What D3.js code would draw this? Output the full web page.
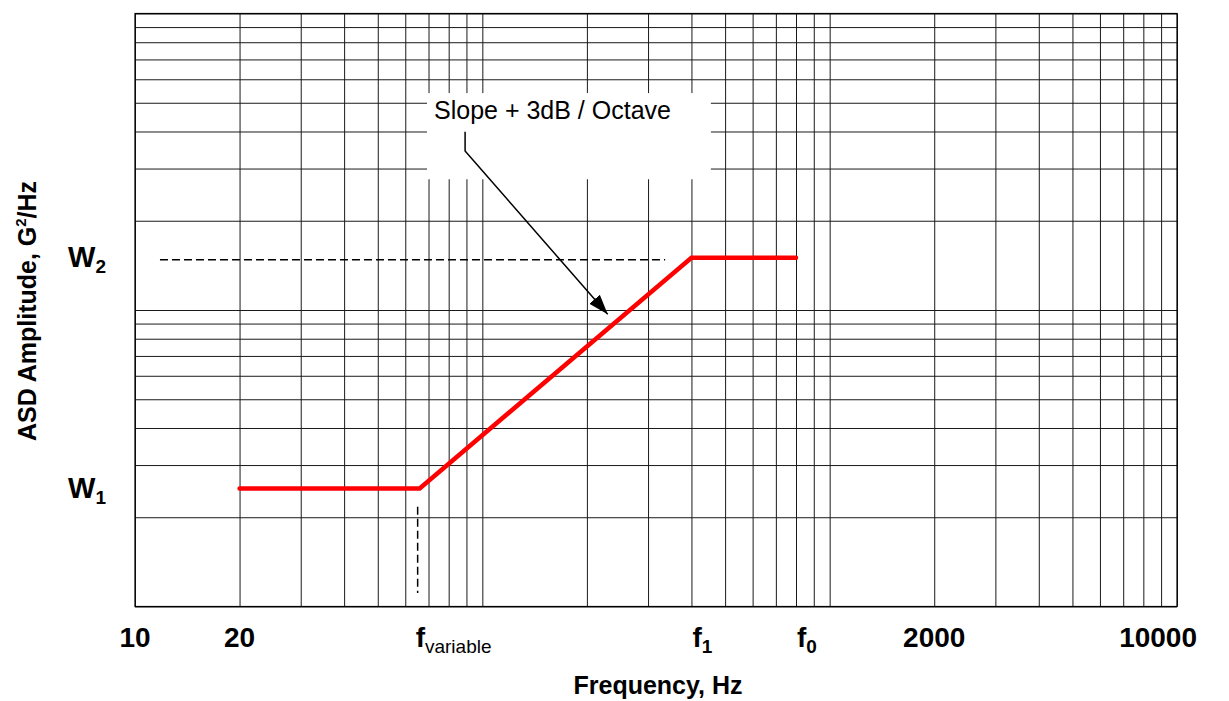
<!DOCTYPE html>
<html>
<head>
<meta charset="utf-8">
<script src="https://cdn.jsdelivr.net/npm/d3@7"></script>
<style>
  body { margin: 0; background: #fff; }
  text { font-family: "Liberation Sans", Arial, sans-serif; fill: #000; }
</style>
</head>
<body>
<script>
var width = 1229;
var height = 701;

// data
var freqDomain = [10, 10000];
var asdDomain = [0.001, 0.1];
var profileFreq = [20, 66, 400, 800];
var profileAsd = [0.0025, 0.0025, 0.015, 0.015];
var tickValues = [10, 20, 66, 400, 800, 2000, 10000];
var tickMain = ["10", "20", "f", "f", "f", "2000", "10000"];
var tickSub = ["", "", "variable", "1", "0", "", ""];
var levelValues = [0.0025, 0.015];
var levelSub = ["1", "2"];
var w2DashFreq = [11.8, 336];
var fvarDashAsd = [0.00111, 0.00217];
var noteText = "Slope + 3dB / Octave";
var noteBoxFreq = [69.3, 455];
var noteBoxAsd = [0.0276, 0.0539];
var noteLeadFreq = [89.2, 89.2, 229.6];
var noteLeadAsd = [0.0399, 0.0344, 0.00967];

var margin = {left: 135, top: 13.5};
var chart_width = 1042;
var chart_height = 593;

var svgContainer = d3.select("body")
                     .append("svg")
                     .attr("width", width)
                     .attr("height", height);

var x = d3.scaleLog().domain(freqDomain).range([0, chart_width]);
var y = d3.scaleLog().domain(asdDomain).range([chart_height, 0]);

var chart_group = svgContainer.append("g")
                              .attr("transform", "translate(" + margin.left + "," + margin.top + ")");

// grid
chart_group.append("g")
    .attr("class", "gridx")
    .attr("transform", "translate(0," + chart_height + ")")
    .call(d3.axisBottom(x).tickSizeInner(-chart_height).tickSizeOuter(0).tickFormat(""));
chart_group.append("g")
    .attr("class", "gridy")
    .call(d3.axisLeft(y).tickSizeInner(-chart_width).tickSizeOuter(0).tickFormat(""));
chart_group.selectAll(".domain").remove();
chart_group.selectAll(".tick line").attr("stroke", "#1a1a1a").attr("stroke-width", 1);

chart_group.append("rect")
    .attr("width", chart_width)
    .attr("height", chart_height)
    .attr("fill", "none")
    .attr("stroke", "#000")
    .attr("stroke-width", 1.2);

// note box hides grid
chart_group.append("rect")
    .attr("x", x(noteBoxFreq[0]))
    .attr("y", y(noteBoxAsd[1]))
    .attr("width", x(noteBoxFreq[1]) - x(noteBoxFreq[0]))
    .attr("height", y(noteBoxAsd[0]) - y(noteBoxAsd[1]))
    .attr("fill", "#fff");

chart_group.append("text")
    .attr("x", x(noteBoxFreq[0]) + 7)
    .attr("y", y(noteBoxAsd[1]) + 26)
    .style("font-size", "25px")
    .text(noteText);

// dashed reference lines
chart_group.append("line")
    .attr("x1", x(w2DashFreq[0]))
    .attr("x2", x(w2DashFreq[1]))
    .attr("y1", y(levelValues[1]) + 2)
    .attr("y2", y(levelValues[1]) + 2)
    .attr("stroke", "#000")
    .attr("stroke-width", 1.5)
    .attr("stroke-dasharray", "8,4");

chart_group.append("line")
    .attr("x1", x(profileFreq[1]) - 2)
    .attr("x2", x(profileFreq[1]) - 2)
    .attr("y1", y(fvarDashAsd[1]))
    .attr("y2", y(fvarDashAsd[0]))
    .attr("stroke", "#000")
    .attr("stroke-width", 1.5)
    .attr("stroke-dasharray", "8,4");

// arrow
svgContainer.append("defs").append("marker")
    .attr("id", "arrowhead")
    .attr("markerUnits", "userSpaceOnUse")
    .attr("markerWidth", 22)
    .attr("markerHeight", 18)
    .attr("viewBox", "0 -9 22 18")
    .attr("refX", 20)
    .attr("refY", 0)
    .attr("orient", "auto")
    .append("path")
    .attr("d", "M0,-7L20,0L0,7Z")
    .attr("fill", "#000");

var lead = d3.line()
    .x(function (d) { return x(d[0]); })
    .y(function (d) { return y(d[1]); });

chart_group.append("path")
    .datum(d3.zip(noteLeadFreq, noteLeadAsd))
    .attr("d", lead)
    .attr("fill", "none")
    .attr("stroke", "#000")
    .attr("stroke-width", 1.5)
    .attr("marker-end", "url(#arrowhead)");

// profile
chart_group.append("path")
    .datum(d3.zip(profileFreq, profileAsd))
    .attr("d", lead)
    .attr("fill", "none")
    .attr("stroke", "#ff0000")
    .attr("stroke-width", 4.5)
    .attr("stroke-linecap", "round");

// x labels
var last = tickValues.length - 1;
var xlab = chart_group.selectAll(".xlab")
    .data(d3.range(tickValues.length))
    .enter()
    .append("text")
    .attr("class", "xlab")
    .attr("x", function (i) {
        if (i === last) return x(tickValues[i]) + 20;
        if (tickSub[i] === "") return x(tickValues[i]);
        return tickSub[i].length > 1 ? x(tickValues[i]) - 4 : x(tickValues[i]) + 1;
    })
    .attr("y", 633.5)
    .style("text-anchor", function (i) {
        if (i === last) return "end";
        return tickSub[i] === "" ? "middle" : "start";
    })
    .style("font-size", "28px")
    .style("font-weight", "bold");
xlab.append("tspan").text(function (i) { return tickMain[i]; });
xlab.append("tspan")
    .attr("dy", 6)
    .style("font-size", "19px")
    .style("font-weight", function (i) { return tickSub[i] === "variable" ? "normal" : "bold"; })
    .text(function (i) { return tickSub[i]; });

// y labels
var ylab = chart_group.selectAll(".ylab")
    .data(d3.range(levelValues.length))
    .enter()
    .append("text")
    .attr("class", "ylab")
    .attr("x", -67)
    .attr("y", function (i) { return y(levelValues[i]) + 9; })
    .style("font-size", "29px")
    .style("font-weight", "bold");
ylab.append("tspan").text("W");
ylab.append("tspan")
    .attr("dy", 6)
    .style("font-size", "19px")
    .text(function (i) { return levelSub[i]; });

// axis titles
svgContainer.append("text")
    .attr("x", 658)
    .attr("y", 694)
    .style("text-anchor", "middle")
    .style("font-size", "25px")
    .style("font-weight", "bold")
    .text("Frequency, Hz");

var ytitle = svgContainer.append("text")
    .attr("transform", "translate(36,311) rotate(-90)")
    .style("text-anchor", "middle")
    .style("font-size", "25px")
    .style("font-weight", "bold");
ytitle.append("tspan").text("ASD Amplitude, G");
ytitle.append("tspan").attr("dy", -10).style("font-size", "15px").text("2");
ytitle.append("tspan").attr("dy", 10).text("/Hz");
</script>
</body>
</html>
